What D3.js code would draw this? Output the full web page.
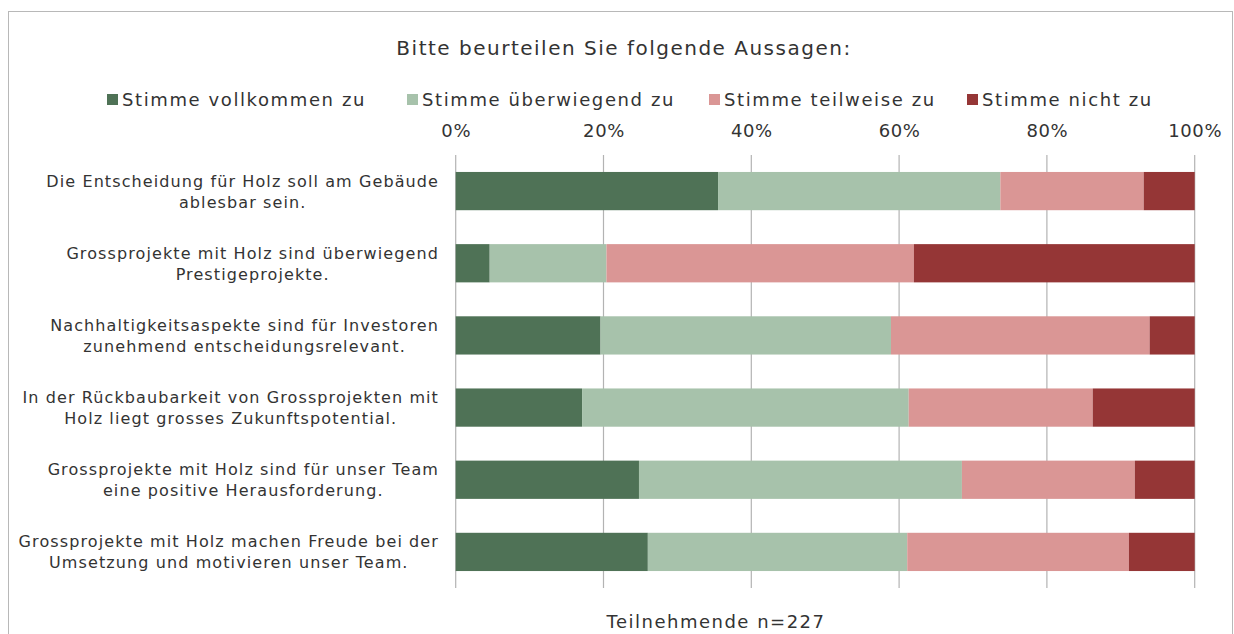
<!DOCTYPE html>
<html><head><meta charset="utf-8">
<script src="https://cdn.jsdelivr.net/npm/d3@7"></script>
<style>body{margin:0;background:#fff}svg{display:block}text{font-family:"DejaVu Sans",sans-serif;fill:#333}</style>
</head><body><svg id="c" width="1234" height="634"></svg>
<script>
const categories = [
  ["Die Entscheidung für Holz soll am Gebäude","ablesbar sein."],
  ["Grossprojekte mit Holz sind überwiegend","Prestigeprojekte."],
  ["Nachhaltigkeitsaspekte sind für Investoren","zunehmend entscheidungsrelevant."],
  ["In der Rückbaubarkeit von Grossprojekten mit","Holz liegt grosses Zukunftspotential."],
  ["Grossprojekte mit Holz sind für unser Team","eine positive Herausforderung."],
  ["Grossprojekte mit Holz machen Freude bei der","Umsetzung und motivieren unser Team."]
];
const seriesNames = ["Stimme vollkommen zu","Stimme überwiegend zu","Stimme teilweise zu","Stimme nicht zu"];
const vollkommen = [35.5, 4.6, 19.6, 17.1, 24.8, 26.0];
const ueberwiegend = [38.2, 15.8, 39.3, 44.2, 43.7, 35.1];
const teilweise = [19.4, 41.6, 35.0, 24.9, 23.4, 30.0];
const nicht = [6.9, 38.0, 6.1, 13.8, 8.1, 8.9];
const tickValues = [0,20,40,60,80,100];
const colors = ["#4f7256","#a7c2ab","#da9695","#953636"];
const title = "Bitte beurteilen Sie folgende Aussagen:";
const xTitle = "Teilnehmende n=227";

const svg = d3.select("#c");
svg.append("rect").attr("x",8.5).attr("y",11.5).attr("width",1224).attr("height",640)
  .attr("fill","none").attr("stroke","#b8b8b8");

const rows = categories.map((c,i)=>({key:i, v:[vollkommen[i],ueberwiegend[i],teilweise[i],nicht[i]]}));
const x = d3.scaleLinear().domain([0,100]).range([455.7,1194.7]);
const y = d3.scaleBand().domain(d3.range(categories.length)).range([155,588]).paddingInner(0.47).paddingOuter(0.235);

// gridlines
svg.append("g").selectAll("line").data(tickValues).join("line")
  .attr("x1",d=>x(d)).attr("x2",d=>x(d)).attr("y1",155).attr("y2",588)
  .attr("stroke","#b3b3b3").attr("stroke-width",1.2);

// top axis labels
const ax = svg.append("g").attr("transform","translate(0,137)")
  .call(d3.axisTop(x).tickValues(tickValues).tickFormat(d=>d+"%").tickSize(0).tickPadding(0));
ax.select(".domain").remove();
ax.selectAll("text").attr("font-size",18).style("font-family","DejaVu Sans, sans-serif")
  .attr("fill","#333").style("letter-spacing","0.6px");

// stacked bars
const stackData = rows.map(r=>{const o={key:r.key}; seriesNames.forEach((s,j)=>o[s]=r.v[j]); return o;});
const stack = d3.stack().keys(seriesNames)(stackData);
svg.append("g").selectAll("g").data(stack).join("g").attr("fill",(d,i)=>colors[i])
  .selectAll("rect").data(d=>d).join("rect")
  .attr("x",d=>x(d[0])).attr("width",d=>x(d[1])-x(d[0]))
  .attr("y",(d,i)=>y(i)).attr("height",y.bandwidth());

// category labels
const lab = svg.append("g");
categories.forEach((lines,i)=>{
  const g = lab.append("g");
  const ts = lines.map((l,k)=>g.append("text").attr("font-size",16).style("letter-spacing","1.1px").attr("text-anchor","middle").text(l));
  const w = d3.max(ts, t=>t.node().getComputedTextLength());
  const cx = 439 - w/2;
  const cy = y(i)+y.bandwidth()/2;
  ts.forEach((t,k)=>t.attr("x",cx).attr("y",cy + 6 + (k-0.5)*21));
});

// title
svg.append("text").attr("x",624).attr("y",55).attr("text-anchor","middle").attr("font-size",20)
  .style("letter-spacing","1.5px").text(title);

// legend
const legX = [107, 407, 709, 967];
const leg = svg.append("g");
seriesNames.forEach((s,i)=>{
  leg.append("rect").attr("x",legX[i]).attr("y",94).attr("width",11).attr("height",11).attr("fill",colors[i]);
  leg.append("text").attr("x",legX[i]+15).attr("y",106).attr("font-size",18).style("letter-spacing","1.6px").text(s);
});

svg.append("text").attr("x",716).attr("y",628).attr("text-anchor","middle").attr("font-size",18)
  .style("letter-spacing","1.5px").text(xTitle);
</script></body></html>
